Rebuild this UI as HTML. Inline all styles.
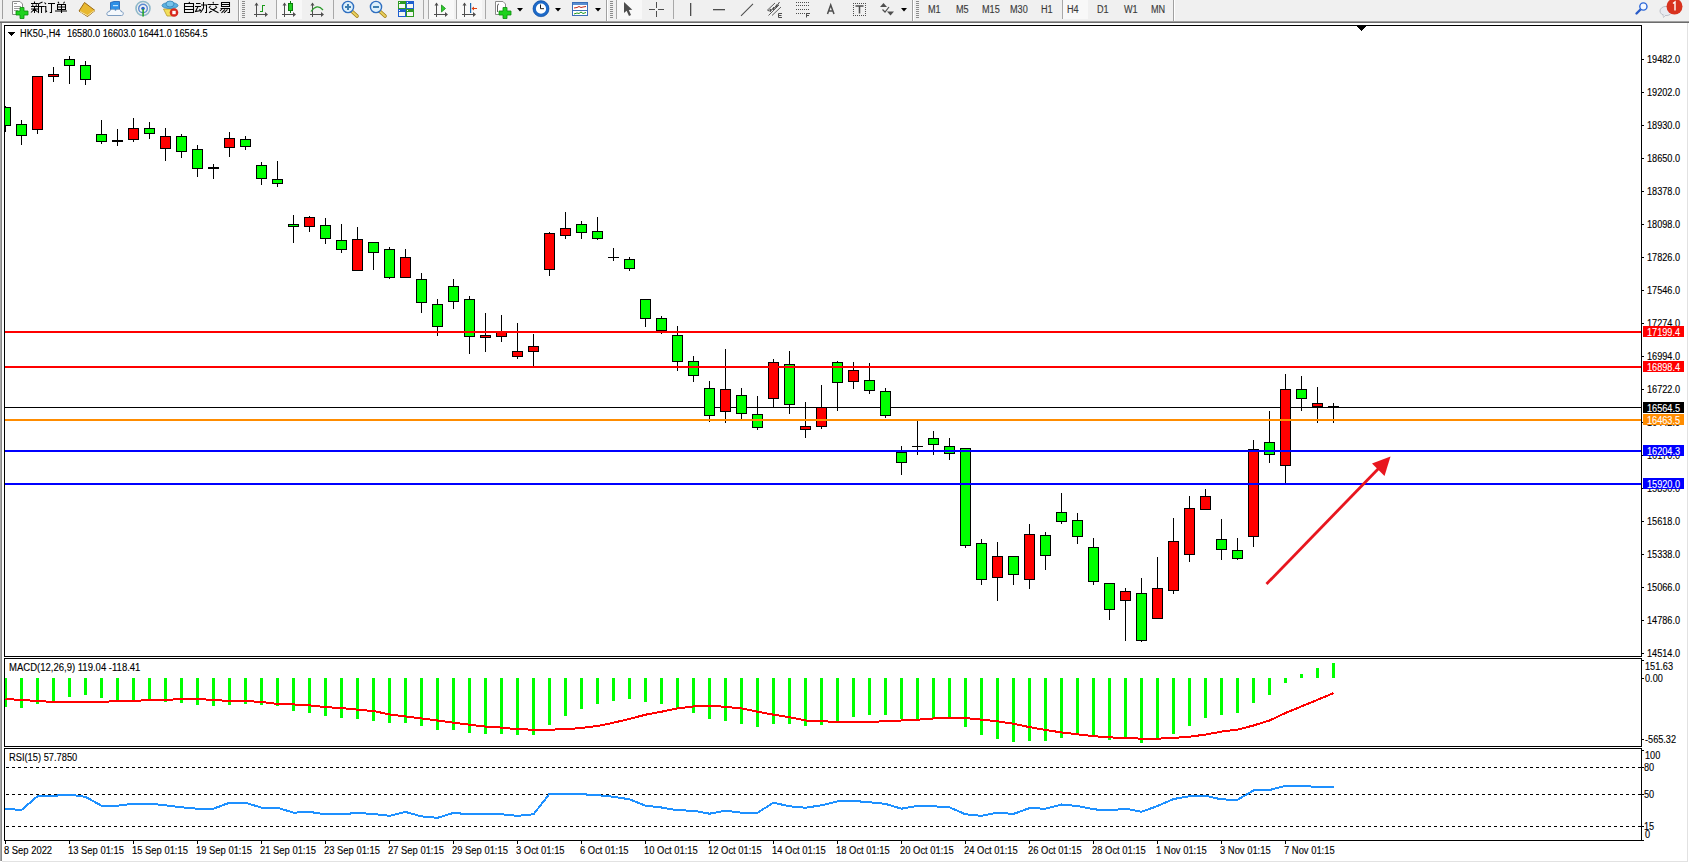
<!DOCTYPE html><html><head><meta charset="utf-8"><style>
html,body{margin:0;padding:0;}
body{width:1689px;height:863px;position:relative;overflow:hidden;background:#fff;font-family:"Liberation Sans",sans-serif;}
.t{position:absolute;font-size:10px;line-height:10px;color:#000;white-space:nowrap;transform-origin:0 0;-webkit-text-stroke:0.12px currentColor;}
.p{transform:scaleX(0.915);}
.d{transform:scaleX(0.94);}
.h{transform:scaleX(0.93);}
.tf{transform:scaleX(0.91);color:#3A3A3A;}
.tag{position:absolute;left:1643px;width:41px;height:11px;color:#fff;font-size:10px;line-height:10px;-webkit-text-stroke:0.1px #fff;}
.tag span{position:absolute;left:4px;top:2px;transform-origin:0 0;transform:scaleX(0.915);white-space:nowrap;}
#tb{position:absolute;left:0;top:0;width:1689px;height:21px;background:#F0F0F0;}

</style></head><body>
<div id="tb"></div>
<div style="position:absolute;left:0;top:22px;width:1px;height:839px;background:#A8A8A8"></div>
<div style="position:absolute;left:1px;top:22px;width:1px;height:839px;background:#888888"></div>
<div style="position:absolute;left:1687px;top:22px;width:1px;height:840px;background:#E2E2E2"></div>
<div style="position:absolute;left:2px;top:861px;width:1686px;height:1px;background:#E2E2E2"></div>
<svg width="1689" height="863" style="position:absolute;left:0;top:0" shape-rendering="crispEdges">
<clipPath id="cm"><rect x="5" y="26" width="1636" height="630"/></clipPath>
<clipPath id="cmacd"><rect x="5" y="659" width="1636" height="87"/></clipPath>
<clipPath id="crsi"><rect x="5" y="749" width="1636" height="91"/></clipPath>
<g clip-path="url(#cm)">
<rect x="5" y="407" width="1636" height="1" fill="#000"/>
<rect x="5" y="106" width="1" height="26" fill="#000"/>
<rect x="0" y="107" width="11" height="19" fill="#000"/>
<rect x="1" y="108" width="9" height="17" fill="#00FF00"/>
<rect x="21" y="120" width="1" height="25" fill="#000"/>
<rect x="16" y="124" width="11" height="12" fill="#000"/>
<rect x="17" y="125" width="9" height="10" fill="#00FF00"/>
<rect x="37" y="76" width="1" height="58" fill="#000"/>
<rect x="32" y="76" width="11" height="54" fill="#000"/>
<rect x="33" y="77" width="9" height="52" fill="#FF0000"/>
<rect x="53" y="67" width="1" height="15" fill="#000"/>
<rect x="48" y="74" width="11" height="3" fill="#000"/>
<rect x="49" y="75" width="9" height="1" fill="#FF0000"/>
<rect x="69" y="56" width="1" height="28" fill="#000"/>
<rect x="64" y="59" width="11" height="7" fill="#000"/>
<rect x="65" y="60" width="9" height="5" fill="#00FF00"/>
<rect x="85" y="61" width="1" height="24" fill="#000"/>
<rect x="80" y="65" width="11" height="15" fill="#000"/>
<rect x="81" y="66" width="9" height="13" fill="#00FF00"/>
<rect x="101" y="120" width="1" height="24" fill="#000"/>
<rect x="96" y="134" width="11" height="8" fill="#000"/>
<rect x="97" y="135" width="9" height="6" fill="#00FF00"/>
<rect x="117" y="129" width="1" height="17" fill="#000"/>
<rect x="112" y="140" width="11" height="2" fill="#000"/>
<rect x="133" y="118" width="1" height="24" fill="#000"/>
<rect x="128" y="128" width="11" height="12" fill="#000"/>
<rect x="129" y="129" width="9" height="10" fill="#FF0000"/>
<rect x="149" y="122" width="1" height="17" fill="#000"/>
<rect x="144" y="128" width="11" height="6" fill="#000"/>
<rect x="145" y="129" width="9" height="4" fill="#00FF00"/>
<rect x="165" y="128" width="1" height="33" fill="#000"/>
<rect x="160" y="136" width="11" height="13" fill="#000"/>
<rect x="161" y="137" width="9" height="11" fill="#FF0000"/>
<rect x="181" y="134" width="1" height="24" fill="#000"/>
<rect x="176" y="136" width="11" height="16" fill="#000"/>
<rect x="177" y="137" width="9" height="14" fill="#00FF00"/>
<rect x="197" y="145" width="1" height="32" fill="#000"/>
<rect x="192" y="149" width="11" height="20" fill="#000"/>
<rect x="193" y="150" width="9" height="18" fill="#00FF00"/>
<rect x="213" y="164" width="1" height="15" fill="#000"/>
<rect x="208" y="167" width="11" height="2" fill="#000"/>
<rect x="229" y="132" width="1" height="25" fill="#000"/>
<rect x="224" y="138" width="11" height="10" fill="#000"/>
<rect x="225" y="139" width="9" height="8" fill="#FF0000"/>
<rect x="245" y="136" width="1" height="14" fill="#000"/>
<rect x="240" y="139" width="11" height="8" fill="#000"/>
<rect x="241" y="140" width="9" height="6" fill="#00FF00"/>
<rect x="261" y="162" width="1" height="23" fill="#000"/>
<rect x="256" y="165" width="11" height="14" fill="#000"/>
<rect x="257" y="166" width="9" height="12" fill="#00FF00"/>
<rect x="277" y="161" width="1" height="26" fill="#000"/>
<rect x="272" y="179" width="11" height="5" fill="#000"/>
<rect x="273" y="180" width="9" height="3" fill="#00FF00"/>
<rect x="293" y="215" width="1" height="28" fill="#000"/>
<rect x="288" y="224" width="11" height="3" fill="#000"/>
<rect x="289" y="225" width="9" height="1" fill="#00FF00"/>
<rect x="309" y="216" width="1" height="16" fill="#000"/>
<rect x="304" y="217" width="11" height="10" fill="#000"/>
<rect x="305" y="218" width="9" height="8" fill="#FF0000"/>
<rect x="325" y="218" width="1" height="26" fill="#000"/>
<rect x="320" y="225" width="11" height="14" fill="#000"/>
<rect x="321" y="226" width="9" height="12" fill="#00FF00"/>
<rect x="341" y="224" width="1" height="29" fill="#000"/>
<rect x="336" y="240" width="11" height="10" fill="#000"/>
<rect x="337" y="241" width="9" height="8" fill="#00FF00"/>
<rect x="357" y="227" width="1" height="44" fill="#000"/>
<rect x="352" y="239" width="11" height="32" fill="#000"/>
<rect x="353" y="240" width="9" height="30" fill="#FF0000"/>
<rect x="373" y="242" width="1" height="28" fill="#000"/>
<rect x="368" y="242" width="11" height="11" fill="#000"/>
<rect x="369" y="243" width="9" height="9" fill="#00FF00"/>
<rect x="389" y="247" width="1" height="32" fill="#000"/>
<rect x="384" y="249" width="11" height="29" fill="#000"/>
<rect x="385" y="250" width="9" height="27" fill="#00FF00"/>
<rect x="405" y="249" width="1" height="29" fill="#000"/>
<rect x="400" y="257" width="11" height="21" fill="#000"/>
<rect x="401" y="258" width="9" height="19" fill="#FF0000"/>
<rect x="421" y="273" width="1" height="40" fill="#000"/>
<rect x="416" y="279" width="11" height="24" fill="#000"/>
<rect x="417" y="280" width="9" height="22" fill="#00FF00"/>
<rect x="437" y="299" width="1" height="37" fill="#000"/>
<rect x="432" y="304" width="11" height="23" fill="#000"/>
<rect x="433" y="305" width="9" height="21" fill="#00FF00"/>
<rect x="453" y="279" width="1" height="30" fill="#000"/>
<rect x="448" y="286" width="11" height="16" fill="#000"/>
<rect x="449" y="287" width="9" height="14" fill="#00FF00"/>
<rect x="469" y="296" width="1" height="58" fill="#000"/>
<rect x="464" y="299" width="11" height="38" fill="#000"/>
<rect x="465" y="300" width="9" height="36" fill="#00FF00"/>
<rect x="485" y="313" width="1" height="39" fill="#000"/>
<rect x="480" y="335" width="11" height="3" fill="#000"/>
<rect x="481" y="336" width="9" height="1" fill="#FF0000"/>
<rect x="501" y="315" width="1" height="27" fill="#000"/>
<rect x="496" y="331" width="11" height="6" fill="#000"/>
<rect x="497" y="332" width="9" height="4" fill="#FF0000"/>
<rect x="517" y="323" width="1" height="36" fill="#000"/>
<rect x="512" y="351" width="11" height="6" fill="#000"/>
<rect x="513" y="352" width="9" height="4" fill="#FF0000"/>
<rect x="533" y="334" width="1" height="33" fill="#000"/>
<rect x="528" y="346" width="11" height="6" fill="#000"/>
<rect x="529" y="347" width="9" height="4" fill="#FF0000"/>
<rect x="549" y="232" width="1" height="44" fill="#000"/>
<rect x="544" y="233" width="11" height="37" fill="#000"/>
<rect x="545" y="234" width="9" height="35" fill="#FF0000"/>
<rect x="565" y="212" width="1" height="27" fill="#000"/>
<rect x="560" y="228" width="11" height="8" fill="#000"/>
<rect x="561" y="229" width="9" height="6" fill="#FF0000"/>
<rect x="581" y="221" width="1" height="18" fill="#000"/>
<rect x="576" y="224" width="11" height="9" fill="#000"/>
<rect x="577" y="225" width="9" height="7" fill="#00FF00"/>
<rect x="597" y="217" width="1" height="23" fill="#000"/>
<rect x="592" y="231" width="11" height="8" fill="#000"/>
<rect x="593" y="232" width="9" height="6" fill="#00FF00"/>
<rect x="613" y="248" width="1" height="13" fill="#000"/>
<rect x="608" y="257" width="11" height="1" fill="#000"/>
<rect x="629" y="257" width="1" height="14" fill="#000"/>
<rect x="624" y="259" width="11" height="10" fill="#000"/>
<rect x="625" y="260" width="9" height="8" fill="#00FF00"/>
<rect x="645" y="299" width="1" height="28" fill="#000"/>
<rect x="640" y="299" width="11" height="20" fill="#000"/>
<rect x="641" y="300" width="9" height="18" fill="#00FF00"/>
<rect x="661" y="316" width="1" height="18" fill="#000"/>
<rect x="656" y="318" width="11" height="13" fill="#000"/>
<rect x="657" y="319" width="9" height="11" fill="#00FF00"/>
<rect x="677" y="326" width="1" height="45" fill="#000"/>
<rect x="672" y="335" width="11" height="27" fill="#000"/>
<rect x="673" y="336" width="9" height="25" fill="#00FF00"/>
<rect x="693" y="356" width="1" height="26" fill="#000"/>
<rect x="688" y="361" width="11" height="15" fill="#000"/>
<rect x="689" y="362" width="9" height="13" fill="#00FF00"/>
<rect x="709" y="381" width="1" height="41" fill="#000"/>
<rect x="704" y="388" width="11" height="28" fill="#000"/>
<rect x="705" y="389" width="9" height="26" fill="#00FF00"/>
<rect x="725" y="349" width="1" height="74" fill="#000"/>
<rect x="720" y="389" width="11" height="23" fill="#000"/>
<rect x="721" y="390" width="9" height="21" fill="#FF0000"/>
<rect x="741" y="388" width="1" height="32" fill="#000"/>
<rect x="736" y="395" width="11" height="19" fill="#000"/>
<rect x="737" y="396" width="9" height="17" fill="#00FF00"/>
<rect x="757" y="396" width="1" height="34" fill="#000"/>
<rect x="752" y="414" width="11" height="14" fill="#000"/>
<rect x="753" y="415" width="9" height="12" fill="#00FF00"/>
<rect x="773" y="359" width="1" height="49" fill="#000"/>
<rect x="768" y="362" width="11" height="37" fill="#000"/>
<rect x="769" y="363" width="9" height="35" fill="#FF0000"/>
<rect x="789" y="351" width="1" height="63" fill="#000"/>
<rect x="784" y="364" width="11" height="41" fill="#000"/>
<rect x="785" y="365" width="9" height="39" fill="#00FF00"/>
<rect x="805" y="402" width="1" height="36" fill="#000"/>
<rect x="800" y="426" width="11" height="4" fill="#000"/>
<rect x="801" y="427" width="9" height="2" fill="#FF0000"/>
<rect x="821" y="385" width="1" height="44" fill="#000"/>
<rect x="816" y="407" width="11" height="20" fill="#000"/>
<rect x="817" y="408" width="9" height="18" fill="#FF0000"/>
<rect x="837" y="361" width="1" height="50" fill="#000"/>
<rect x="832" y="362" width="11" height="21" fill="#000"/>
<rect x="833" y="363" width="9" height="19" fill="#00FF00"/>
<rect x="853" y="362" width="1" height="27" fill="#000"/>
<rect x="848" y="370" width="11" height="12" fill="#000"/>
<rect x="849" y="371" width="9" height="10" fill="#FF0000"/>
<rect x="869" y="363" width="1" height="31" fill="#000"/>
<rect x="864" y="380" width="11" height="11" fill="#000"/>
<rect x="865" y="381" width="9" height="9" fill="#00FF00"/>
<rect x="885" y="388" width="1" height="30" fill="#000"/>
<rect x="880" y="391" width="11" height="25" fill="#000"/>
<rect x="881" y="392" width="9" height="23" fill="#00FF00"/>
<rect x="901" y="446" width="1" height="29" fill="#000"/>
<rect x="896" y="452" width="11" height="11" fill="#000"/>
<rect x="897" y="453" width="9" height="9" fill="#00FF00"/>
<rect x="917" y="421" width="1" height="34" fill="#000"/>
<rect x="912" y="446" width="11" height="1" fill="#000"/>
<rect x="933" y="431" width="1" height="24" fill="#000"/>
<rect x="928" y="438" width="11" height="7" fill="#000"/>
<rect x="929" y="439" width="9" height="5" fill="#00FF00"/>
<rect x="949" y="438" width="1" height="22" fill="#000"/>
<rect x="944" y="446" width="11" height="8" fill="#000"/>
<rect x="945" y="447" width="9" height="6" fill="#00FF00"/>
<rect x="965" y="448" width="1" height="100" fill="#000"/>
<rect x="960" y="448" width="11" height="98" fill="#000"/>
<rect x="961" y="449" width="9" height="96" fill="#00FF00"/>
<rect x="981" y="539" width="1" height="46" fill="#000"/>
<rect x="976" y="543" width="11" height="37" fill="#000"/>
<rect x="977" y="544" width="9" height="35" fill="#00FF00"/>
<rect x="997" y="542" width="1" height="59" fill="#000"/>
<rect x="992" y="556" width="11" height="22" fill="#000"/>
<rect x="993" y="557" width="9" height="20" fill="#FF0000"/>
<rect x="1013" y="556" width="1" height="29" fill="#000"/>
<rect x="1008" y="556" width="11" height="19" fill="#000"/>
<rect x="1009" y="557" width="9" height="17" fill="#00FF00"/>
<rect x="1029" y="524" width="1" height="65" fill="#000"/>
<rect x="1024" y="534" width="11" height="46" fill="#000"/>
<rect x="1025" y="535" width="9" height="44" fill="#FF0000"/>
<rect x="1045" y="532" width="1" height="38" fill="#000"/>
<rect x="1040" y="535" width="11" height="21" fill="#000"/>
<rect x="1041" y="536" width="9" height="19" fill="#00FF00"/>
<rect x="1061" y="493" width="1" height="31" fill="#000"/>
<rect x="1056" y="512" width="11" height="10" fill="#000"/>
<rect x="1057" y="513" width="9" height="8" fill="#00FF00"/>
<rect x="1077" y="513" width="1" height="31" fill="#000"/>
<rect x="1072" y="520" width="11" height="17" fill="#000"/>
<rect x="1073" y="521" width="9" height="15" fill="#00FF00"/>
<rect x="1093" y="538" width="1" height="47" fill="#000"/>
<rect x="1088" y="547" width="11" height="35" fill="#000"/>
<rect x="1089" y="548" width="9" height="33" fill="#00FF00"/>
<rect x="1109" y="583" width="1" height="37" fill="#000"/>
<rect x="1104" y="583" width="11" height="27" fill="#000"/>
<rect x="1105" y="584" width="9" height="25" fill="#00FF00"/>
<rect x="1125" y="588" width="1" height="53" fill="#000"/>
<rect x="1120" y="591" width="11" height="10" fill="#000"/>
<rect x="1121" y="592" width="9" height="8" fill="#FF0000"/>
<rect x="1141" y="578" width="1" height="64" fill="#000"/>
<rect x="1136" y="593" width="11" height="48" fill="#000"/>
<rect x="1137" y="594" width="9" height="46" fill="#00FF00"/>
<rect x="1157" y="557" width="1" height="62" fill="#000"/>
<rect x="1152" y="588" width="11" height="31" fill="#000"/>
<rect x="1153" y="589" width="9" height="29" fill="#FF0000"/>
<rect x="1173" y="518" width="1" height="76" fill="#000"/>
<rect x="1168" y="541" width="11" height="50" fill="#000"/>
<rect x="1169" y="542" width="9" height="48" fill="#FF0000"/>
<rect x="1189" y="496" width="1" height="66" fill="#000"/>
<rect x="1184" y="508" width="11" height="47" fill="#000"/>
<rect x="1185" y="509" width="9" height="45" fill="#FF0000"/>
<rect x="1205" y="489" width="1" height="21" fill="#000"/>
<rect x="1200" y="496" width="11" height="14" fill="#000"/>
<rect x="1201" y="497" width="9" height="12" fill="#FF0000"/>
<rect x="1221" y="519" width="1" height="41" fill="#000"/>
<rect x="1216" y="539" width="11" height="11" fill="#000"/>
<rect x="1217" y="540" width="9" height="9" fill="#00FF00"/>
<rect x="1237" y="538" width="1" height="22" fill="#000"/>
<rect x="1232" y="550" width="11" height="9" fill="#000"/>
<rect x="1233" y="551" width="9" height="7" fill="#00FF00"/>
<rect x="1253" y="440" width="1" height="107" fill="#000"/>
<rect x="1248" y="449" width="11" height="88" fill="#000"/>
<rect x="1249" y="450" width="9" height="86" fill="#FF0000"/>
<rect x="1269" y="411" width="1" height="52" fill="#000"/>
<rect x="1264" y="442" width="11" height="13" fill="#000"/>
<rect x="1265" y="443" width="9" height="11" fill="#00FF00"/>
<rect x="1285" y="374" width="1" height="110" fill="#000"/>
<rect x="1280" y="389" width="11" height="77" fill="#000"/>
<rect x="1281" y="390" width="9" height="75" fill="#FF0000"/>
<rect x="1301" y="376" width="1" height="35" fill="#000"/>
<rect x="1296" y="389" width="11" height="10" fill="#000"/>
<rect x="1297" y="390" width="9" height="8" fill="#00FF00"/>
<rect x="1317" y="387" width="1" height="36" fill="#000"/>
<rect x="1312" y="403" width="11" height="4" fill="#000"/>
<rect x="1313" y="404" width="9" height="2" fill="#FF0000"/>
<rect x="1333" y="403" width="1" height="20" fill="#000"/>
<rect x="1328" y="406" width="11" height="1" fill="#000"/>
<rect x="5" y="331" width="1636" height="2" fill="#FF0000"/>
<rect x="5" y="366" width="1636" height="2" fill="#FF0000"/>
<rect x="5" y="419" width="1636" height="2" fill="#FF8C00"/>
<rect x="5" y="450" width="1636" height="2" fill="#0000FF"/>
<rect x="5" y="483" width="1636" height="2" fill="#0000FF"/>
<line x1="1266.5" y1="584" x2="1380" y2="467" stroke="#E8161E" stroke-width="2.8" shape-rendering="geometricPrecision"/>
<polygon points="1390.5,456.5 1372,463.5 1384.5,476" fill="#E8161E" shape-rendering="geometricPrecision"/>
</g>
<g clip-path="url(#cmacd)">
<rect x="4" y="678" width="3" height="29" fill="#00FF00"/>
<rect x="20" y="678" width="3" height="30" fill="#00FF00"/>
<rect x="36" y="678" width="3" height="26" fill="#00FF00"/>
<rect x="52" y="678" width="3" height="23" fill="#00FF00"/>
<rect x="68" y="678" width="3" height="19" fill="#00FF00"/>
<rect x="84" y="678" width="3" height="17" fill="#00FF00"/>
<rect x="100" y="678" width="3" height="20" fill="#00FF00"/>
<rect x="116" y="678" width="3" height="22" fill="#00FF00"/>
<rect x="132" y="678" width="3" height="22" fill="#00FF00"/>
<rect x="148" y="678" width="3" height="22" fill="#00FF00"/>
<rect x="164" y="678" width="3" height="24" fill="#00FF00"/>
<rect x="180" y="678" width="3" height="25" fill="#00FF00"/>
<rect x="196" y="678" width="3" height="27" fill="#00FF00"/>
<rect x="212" y="678" width="3" height="28" fill="#00FF00"/>
<rect x="228" y="678" width="3" height="27" fill="#00FF00"/>
<rect x="244" y="678" width="3" height="26" fill="#00FF00"/>
<rect x="260" y="678" width="3" height="27" fill="#00FF00"/>
<rect x="276" y="678" width="3" height="28" fill="#00FF00"/>
<rect x="292" y="678" width="3" height="33" fill="#00FF00"/>
<rect x="308" y="678" width="3" height="35" fill="#00FF00"/>
<rect x="324" y="678" width="3" height="38" fill="#00FF00"/>
<rect x="340" y="678" width="3" height="40" fill="#00FF00"/>
<rect x="356" y="678" width="3" height="41" fill="#00FF00"/>
<rect x="372" y="678" width="3" height="43" fill="#00FF00"/>
<rect x="388" y="678" width="3" height="45" fill="#00FF00"/>
<rect x="404" y="678" width="3" height="45" fill="#00FF00"/>
<rect x="420" y="678" width="3" height="48" fill="#00FF00"/>
<rect x="436" y="678" width="3" height="52" fill="#00FF00"/>
<rect x="452" y="678" width="3" height="52" fill="#00FF00"/>
<rect x="468" y="678" width="3" height="55" fill="#00FF00"/>
<rect x="484" y="678" width="3" height="56" fill="#00FF00"/>
<rect x="500" y="678" width="3" height="56" fill="#00FF00"/>
<rect x="516" y="678" width="3" height="57" fill="#00FF00"/>
<rect x="532" y="678" width="3" height="57" fill="#00FF00"/>
<rect x="548" y="678" width="3" height="47" fill="#00FF00"/>
<rect x="564" y="678" width="3" height="38" fill="#00FF00"/>
<rect x="580" y="678" width="3" height="31" fill="#00FF00"/>
<rect x="596" y="678" width="3" height="26" fill="#00FF00"/>
<rect x="612" y="678" width="3" height="23" fill="#00FF00"/>
<rect x="628" y="678" width="3" height="21" fill="#00FF00"/>
<rect x="644" y="678" width="3" height="24" fill="#00FF00"/>
<rect x="660" y="678" width="3" height="26" fill="#00FF00"/>
<rect x="676" y="678" width="3" height="31" fill="#00FF00"/>
<rect x="692" y="678" width="3" height="35" fill="#00FF00"/>
<rect x="708" y="678" width="3" height="41" fill="#00FF00"/>
<rect x="724" y="678" width="3" height="43" fill="#00FF00"/>
<rect x="740" y="678" width="3" height="46" fill="#00FF00"/>
<rect x="756" y="678" width="3" height="49" fill="#00FF00"/>
<rect x="772" y="678" width="3" height="46" fill="#00FF00"/>
<rect x="788" y="678" width="3" height="46" fill="#00FF00"/>
<rect x="804" y="678" width="3" height="48" fill="#00FF00"/>
<rect x="820" y="678" width="3" height="47" fill="#00FF00"/>
<rect x="836" y="678" width="3" height="43" fill="#00FF00"/>
<rect x="852" y="678" width="3" height="39" fill="#00FF00"/>
<rect x="868" y="678" width="3" height="37" fill="#00FF00"/>
<rect x="884" y="678" width="3" height="37" fill="#00FF00"/>
<rect x="900" y="678" width="3" height="41" fill="#00FF00"/>
<rect x="916" y="678" width="3" height="41" fill="#00FF00"/>
<rect x="932" y="678" width="3" height="40" fill="#00FF00"/>
<rect x="948" y="678" width="3" height="41" fill="#00FF00"/>
<rect x="964" y="678" width="3" height="49" fill="#00FF00"/>
<rect x="980" y="678" width="3" height="57" fill="#00FF00"/>
<rect x="996" y="678" width="3" height="61" fill="#00FF00"/>
<rect x="1012" y="678" width="3" height="64" fill="#00FF00"/>
<rect x="1028" y="678" width="3" height="63" fill="#00FF00"/>
<rect x="1044" y="678" width="3" height="63" fill="#00FF00"/>
<rect x="1060" y="678" width="3" height="60" fill="#00FF00"/>
<rect x="1076" y="678" width="3" height="57" fill="#00FF00"/>
<rect x="1092" y="678" width="3" height="58" fill="#00FF00"/>
<rect x="1108" y="678" width="3" height="62" fill="#00FF00"/>
<rect x="1124" y="678" width="3" height="60" fill="#00FF00"/>
<rect x="1140" y="678" width="3" height="65" fill="#00FF00"/>
<rect x="1156" y="678" width="3" height="61" fill="#00FF00"/>
<rect x="1172" y="678" width="3" height="56" fill="#00FF00"/>
<rect x="1188" y="678" width="3" height="48" fill="#00FF00"/>
<rect x="1204" y="678" width="3" height="40" fill="#00FF00"/>
<rect x="1220" y="678" width="3" height="37" fill="#00FF00"/>
<rect x="1236" y="678" width="3" height="35" fill="#00FF00"/>
<rect x="1252" y="678" width="3" height="25" fill="#00FF00"/>
<rect x="1268" y="678" width="3" height="17" fill="#00FF00"/>
<rect x="1284" y="678" width="3" height="5" fill="#00FF00"/>
<rect x="1300" y="674" width="3" height="4" fill="#00FF00"/>
<rect x="1316" y="668" width="3" height="10" fill="#00FF00"/>
<rect x="1332" y="663" width="3" height="15" fill="#00FF00"/>
<polyline points="5.5,699 21.5,700 37.5,701 53.5,702 69.5,702 85.5,702 101.5,702 117.5,701 133.5,701 149.5,700 165.5,700 181.5,699 197.5,699 213.5,700 229.5,701 245.5,701 261.5,702 277.5,703.9 293.5,704.4 309.5,705.3 325.5,707.2 341.5,708 357.5,709.7 373.5,711 389.5,714.4 405.5,716.4 421.5,718.4 437.5,720.5 453.5,722.7 469.5,724.7 485.5,726.6 501.5,727.6 517.5,729.3 533.5,729.6 549.5,729.6 565.5,729.3 581.5,728 597.5,726 613.5,722.7 629.5,718.9 645.5,714.7 661.5,711.7 677.5,708.4 693.5,706.4 709.5,705.6 725.5,706.9 741.5,708.4 757.5,711.7 773.5,714.7 789.5,717.2 805.5,720.5 821.5,721.3 837.5,721.8 853.5,721.8 869.5,721.8 885.5,721.3 901.5,720.5 917.5,719.7 933.5,718.5 949.5,718.4 965.5,718 981.5,719.7 997.5,721.3 1013.5,723.8 1029.5,727.1 1045.5,730 1061.5,732.4 1077.5,734.3 1093.5,736.2 1109.5,737.4 1125.5,737.9 1141.5,738.7 1157.5,738.7 1173.5,737.9 1189.5,736.7 1205.5,734.6 1221.5,731.6 1237.5,729.6 1253.5,725.5 1269.5,720.5 1285.5,713 1301.5,706.4 1317.5,699.8 1333.5,693.1" fill="none" stroke="#FF0000" stroke-width="2" stroke-linejoin="round"/>
</g>
<g clip-path="url(#crsi)">
<line x1="6" y1="767.5" x2="1641" y2="767.5" stroke="#000" stroke-width="1" stroke-dasharray="3 3"/>
<line x1="6" y1="794.5" x2="1641" y2="794.5" stroke="#000" stroke-width="1" stroke-dasharray="3 3"/>
<line x1="6" y1="826.5" x2="1641" y2="826.5" stroke="#000" stroke-width="1" stroke-dasharray="3 3"/>
<polyline points="4,808.7 5.5,808.7 21.5,810 37.5,796.2 53.5,795.8 69.5,794.6 85.5,796.8 101.5,805.7 117.5,805.7 133.5,803.7 149.5,803.7 165.5,805.3 181.5,807.3 197.5,808.7 213.5,808.7 229.5,802.7 245.5,802.7 261.5,807.7 277.5,807.7 293.5,812.7 309.5,811.9 325.5,814.3 341.5,814.3 357.5,812.9 373.5,814 389.5,815.8 405.5,811.9 421.5,816.4 437.5,817.8 453.5,812.9 469.5,814.3 485.5,814.3 501.5,814.3 517.5,815.8 533.5,814.3 549.5,793.8 565.5,793.8 581.5,794.2 597.5,795.2 613.5,796.8 629.5,799.3 645.5,805.7 661.5,807.5 677.5,810.3 693.5,810.7 709.5,813.7 725.5,810.7 741.5,812.7 757.5,812.7 773.5,802.7 789.5,806.3 805.5,807.7 821.5,805.3 837.5,801.3 853.5,800.9 869.5,802.3 885.5,803.9 901.5,808.7 917.5,805.9 933.5,806.3 949.5,807.3 965.5,814.3 981.5,815.8 997.5,812.7 1013.5,813.9 1029.5,808.1 1045.5,808.7 1061.5,804.5 1077.5,806 1093.5,809.3 1109.5,810.4 1125.5,808.7 1141.5,811.8 1157.5,806 1173.5,799 1189.5,796.3 1205.5,795.8 1221.5,799.4 1237.5,799.8 1253.5,790.5 1269.5,790 1285.5,785.9 1301.5,785.9 1317.5,786.9 1333.5,786.9" fill="none" stroke="#1E90FF" stroke-width="2" stroke-linejoin="round"/>
</g>
<rect x="4.5" y="25.5" width="1637" height="631" fill="none" stroke="#000" stroke-width="1"/>
<rect x="4.5" y="658.5" width="1637" height="88" fill="none" stroke="#000" stroke-width="1"/>
<rect x="4.5" y="748.5" width="1637" height="92" fill="none" stroke="#000" stroke-width="1"/>
<rect x="8" y="32" width="7" height="1" fill="#000"/>
<rect x="9" y="33" width="5" height="1" fill="#000"/>
<rect x="10" y="34" width="3" height="1" fill="#000"/>
<rect x="11" y="35" width="1" height="1" fill="#000"/>
<rect x="1357" y="26" width="9" height="1" fill="#000"/>
<rect x="1358" y="27" width="7" height="1" fill="#000"/>
<rect x="1359" y="28" width="5" height="1" fill="#000"/>
<rect x="1360" y="29" width="3" height="1" fill="#000"/>
<rect x="1361" y="30" width="1" height="1" fill="#000"/>
<rect x="1642" y="59" width="2" height="1" fill="#000"/>
<rect x="1642" y="92" width="2" height="1" fill="#000"/>
<rect x="1642" y="125" width="2" height="1" fill="#000"/>
<rect x="1642" y="158" width="2" height="1" fill="#000"/>
<rect x="1642" y="191" width="2" height="1" fill="#000"/>
<rect x="1642" y="224" width="2" height="1" fill="#000"/>
<rect x="1642" y="257" width="2" height="1" fill="#000"/>
<rect x="1642" y="290" width="2" height="1" fill="#000"/>
<rect x="1642" y="323" width="2" height="1" fill="#000"/>
<rect x="1642" y="356" width="2" height="1" fill="#000"/>
<rect x="1642" y="389" width="2" height="1" fill="#000"/>
<rect x="1642" y="422" width="2" height="1" fill="#000"/>
<rect x="1642" y="455" width="2" height="1" fill="#000"/>
<rect x="1642" y="488" width="2" height="1" fill="#000"/>
<rect x="1642" y="521" width="2" height="1" fill="#000"/>
<rect x="1642" y="554" width="2" height="1" fill="#000"/>
<rect x="1642" y="587" width="2" height="1" fill="#000"/>
<rect x="1642" y="620" width="2" height="1" fill="#000"/>
<rect x="1642" y="653" width="2" height="1" fill="#000"/>
<rect x="1642" y="660" width="2" height="1" fill="#000"/>
<rect x="1642" y="678" width="2" height="1" fill="#000"/>
<rect x="1642" y="739" width="2" height="1" fill="#000"/>
<rect x="1642" y="750" width="2" height="1" fill="#000"/>
<rect x="1642" y="767" width="2" height="1" fill="#000"/>
<rect x="1642" y="794" width="2" height="1" fill="#000"/>
<rect x="1642" y="826" width="2" height="1" fill="#000"/>
<rect x="1642" y="840" width="2" height="1" fill="#000"/>
<rect x="5" y="841" width="1" height="3" fill="#000"/>
<rect x="69" y="841" width="1" height="3" fill="#000"/>
<rect x="133" y="841" width="1" height="3" fill="#000"/>
<rect x="197" y="841" width="1" height="3" fill="#000"/>
<rect x="261" y="841" width="1" height="3" fill="#000"/>
<rect x="325" y="841" width="1" height="3" fill="#000"/>
<rect x="389" y="841" width="1" height="3" fill="#000"/>
<rect x="453" y="841" width="1" height="3" fill="#000"/>
<rect x="517" y="841" width="1" height="3" fill="#000"/>
<rect x="581" y="841" width="1" height="3" fill="#000"/>
<rect x="645" y="841" width="1" height="3" fill="#000"/>
<rect x="709" y="841" width="1" height="3" fill="#000"/>
<rect x="773" y="841" width="1" height="3" fill="#000"/>
<rect x="837" y="841" width="1" height="3" fill="#000"/>
<rect x="901" y="841" width="1" height="3" fill="#000"/>
<rect x="965" y="841" width="1" height="3" fill="#000"/>
<rect x="1029" y="841" width="1" height="3" fill="#000"/>
<rect x="1093" y="841" width="1" height="3" fill="#000"/>
<rect x="1157" y="841" width="1" height="3" fill="#000"/>
<rect x="1221" y="841" width="1" height="3" fill="#000"/>
<rect x="1285" y="841" width="1" height="3" fill="#000"/>
</svg>
<div class="t p" style="left:1647px;top:55px">19482.0</div>
<div class="t p" style="left:1647px;top:88px">19202.0</div>
<div class="t p" style="left:1647px;top:121px">18930.0</div>
<div class="t p" style="left:1647px;top:154px">18650.0</div>
<div class="t p" style="left:1647px;top:187px">18378.0</div>
<div class="t p" style="left:1647px;top:220px">18098.0</div>
<div class="t p" style="left:1647px;top:253px">17826.0</div>
<div class="t p" style="left:1647px;top:286px">17546.0</div>
<div class="t p" style="left:1647px;top:319px">17274.0</div>
<div class="t p" style="left:1647px;top:352px">16994.0</div>
<div class="t p" style="left:1647px;top:385px">16722.0</div>
<div class="t p" style="left:1647px;top:418px">16442.0</div>
<div class="t p" style="left:1647px;top:451px">16170.0</div>
<div class="t p" style="left:1647px;top:484px">15890.0</div>
<div class="t p" style="left:1647px;top:517px">15618.0</div>
<div class="t p" style="left:1647px;top:550px">15338.0</div>
<div class="t p" style="left:1647px;top:583px">15066.0</div>
<div class="t p" style="left:1647px;top:616px">14786.0</div>
<div class="t p" style="left:1647px;top:649px">14514.0</div>
<div class="t p" style="left:1645px;top:662px">151.63</div>
<div class="t p" style="left:1645px;top:674px">0.00</div>
<div class="t p" style="left:1645px;top:735px">-565.32</div>
<div class="t p" style="left:1645px;top:751px">100</div>
<div class="t p" style="left:1644px;top:763px">80</div>
<div class="t p" style="left:1644px;top:790px">50</div>
<div class="t p" style="left:1644px;top:822px">15</div>
<div class="t p" style="left:1645px;top:830px">0</div>
<div class="tag" style="top:326px;background:#FF0000"><span>17199.4</span></div>
<div class="tag" style="top:361px;background:#FF0000"><span>16898.4</span></div>
<div class="tag" style="top:402px;background:#000000"><span>16564.5</span></div>
<div class="tag" style="top:414px;background:#FF8C00"><span>16463.5</span></div>
<div class="tag" style="top:445px;background:#0000FF"><span>16204.3</span></div>
<div class="tag" style="top:478px;background:#0000FF"><span>15920.0</span></div>
<div class="t d" style="left:4px;top:846px">8 Sep 2022</div>
<div class="t d" style="left:68px;top:846px">13 Sep 01:15</div>
<div class="t d" style="left:132px;top:846px">15 Sep 01:15</div>
<div class="t d" style="left:196px;top:846px">19 Sep 01:15</div>
<div class="t d" style="left:260px;top:846px">21 Sep 01:15</div>
<div class="t d" style="left:324px;top:846px">23 Sep 01:15</div>
<div class="t d" style="left:388px;top:846px">27 Sep 01:15</div>
<div class="t d" style="left:452px;top:846px">29 Sep 01:15</div>
<div class="t d" style="left:516px;top:846px">3 Oct 01:15</div>
<div class="t d" style="left:580px;top:846px">6 Oct 01:15</div>
<div class="t d" style="left:644px;top:846px">10 Oct 01:15</div>
<div class="t d" style="left:708px;top:846px">12 Oct 01:15</div>
<div class="t d" style="left:772px;top:846px">14 Oct 01:15</div>
<div class="t d" style="left:836px;top:846px">18 Oct 01:15</div>
<div class="t d" style="left:900px;top:846px">20 Oct 01:15</div>
<div class="t d" style="left:964px;top:846px">24 Oct 01:15</div>
<div class="t d" style="left:1028px;top:846px">26 Oct 01:15</div>
<div class="t d" style="left:1092px;top:846px">28 Oct 01:15</div>
<div class="t d" style="left:1156px;top:846px">1 Nov 01:15</div>
<div class="t d" style="left:1220px;top:846px">3 Nov 01:15</div>
<div class="t d" style="left:1284px;top:846px">7 Nov 01:15</div>
<div class="t h" style="left:20px;top:29px;transform:scaleX(0.92)">HK50-,H4&nbsp; <span style="margin-left:1.5px">16580.0 16603.0 16441.0 16564.5</span></div>
<div class="t h" style="left:9px;top:663px;transform:scaleX(0.952)">MACD(12,26,9) 119.04 -118.41</div>
<div class="t h" style="left:9px;top:753px">RSI(15) 57.7850</div>
<svg width="1689" height="23" style="position:absolute;left:0;top:0">
<rect x="0" y="0" width="1689" height="21" fill="#F0F0F0"/>
<rect x="0" y="21" width="1689" height="1" fill="#A0A0A0"/>
<rect x="0" y="22" width="1689" height="1" fill="#6C6C6C"/>
<rect x="277" y="0" width="25" height="19" fill="#F8F8F8"/>
<rect x="429" y="0" width="25" height="19" fill="#F8F8F8"/>
<rect x="457" y="0" width="25" height="19" fill="#F8F8F8"/>
<rect x="617" y="0" width="25" height="19" fill="#F8F8F8"/>
<rect x="1063" y="0" width="25" height="19" fill="#F8F8F8"/>
<rect x="238" y="0" width="1" height="21" fill="#A0A0A0"/><rect x="239" y="0" width="1" height="21" fill="#FFFFFF"/>
<rect x="606" y="0" width="1" height="21" fill="#A0A0A0"/><rect x="607" y="0" width="1" height="21" fill="#FFFFFF"/>
<rect x="912" y="0" width="1" height="21" fill="#A0A0A0"/><rect x="913" y="0" width="1" height="21" fill="#FFFFFF"/>
<rect x="1173" y="0" width="1" height="21" fill="#A0A0A0"/><rect x="1174" y="0" width="1" height="21" fill="#FFFFFF"/>
<rect x="2" y="0" width="1" height="19" fill="#A0A0A0"/>
<rect x="242" y="1" width="3" height="1" fill="#8C8C8C"/>
<rect x="242" y="3" width="3" height="1" fill="#8C8C8C"/>
<rect x="242" y="5" width="3" height="1" fill="#8C8C8C"/>
<rect x="242" y="7" width="3" height="1" fill="#8C8C8C"/>
<rect x="242" y="9" width="3" height="1" fill="#8C8C8C"/>
<rect x="242" y="11" width="3" height="1" fill="#8C8C8C"/>
<rect x="242" y="13" width="3" height="1" fill="#8C8C8C"/>
<rect x="242" y="15" width="3" height="1" fill="#8C8C8C"/>
<rect x="242" y="17" width="3" height="1" fill="#8C8C8C"/>
<rect x="610" y="1" width="3" height="1" fill="#8C8C8C"/>
<rect x="610" y="3" width="3" height="1" fill="#8C8C8C"/>
<rect x="610" y="5" width="3" height="1" fill="#8C8C8C"/>
<rect x="610" y="7" width="3" height="1" fill="#8C8C8C"/>
<rect x="610" y="9" width="3" height="1" fill="#8C8C8C"/>
<rect x="610" y="11" width="3" height="1" fill="#8C8C8C"/>
<rect x="610" y="13" width="3" height="1" fill="#8C8C8C"/>
<rect x="610" y="15" width="3" height="1" fill="#8C8C8C"/>
<rect x="610" y="17" width="3" height="1" fill="#8C8C8C"/>
<rect x="916" y="1" width="3" height="1" fill="#8C8C8C"/>
<rect x="916" y="3" width="3" height="1" fill="#8C8C8C"/>
<rect x="916" y="5" width="3" height="1" fill="#8C8C8C"/>
<rect x="916" y="7" width="3" height="1" fill="#8C8C8C"/>
<rect x="916" y="9" width="3" height="1" fill="#8C8C8C"/>
<rect x="916" y="11" width="3" height="1" fill="#8C8C8C"/>
<rect x="916" y="13" width="3" height="1" fill="#8C8C8C"/>
<rect x="916" y="15" width="3" height="1" fill="#8C8C8C"/>
<rect x="916" y="17" width="3" height="1" fill="#8C8C8C"/>
<rect x="276" y="0" width="1" height="19" fill="#A8A8A8"/>
<rect x="333" y="0" width="1" height="19" fill="#A8A8A8"/>
<rect x="423" y="0" width="1" height="19" fill="#A8A8A8"/>
<rect x="428" y="0" width="1" height="19" fill="#A8A8A8"/>
<rect x="456" y="0" width="1" height="19" fill="#A8A8A8"/>
<rect x="485" y="0" width="1" height="19" fill="#A8A8A8"/>
<rect x="616" y="0" width="1" height="19" fill="#A8A8A8"/>
<rect x="673" y="0" width="1" height="19" fill="#A8A8A8"/>
<rect x="1062" y="0" width="1" height="19" fill="#A8A8A8"/>
<path d="M12.5,1.5 H20 L22.5,4 V14.5 H12.5 Z" fill="#FFFFFF" stroke="#8A8A8A" stroke-width="1"/>
<rect x="14" y="3" width="3" height="1" fill="#9A9A9A"/><rect x="14" y="6" width="7" height="1" fill="#A0A0A0"/><rect x="14" y="8" width="6" height="1" fill="#A0A0A0"/><rect x="14" y="10" width="4" height="1" fill="#A0A0A0"/>
<path d="M20,7.5 H24 V11 H28 V15 H24 V18.5 H20 V15 H16 V11 H20 Z" fill="#1FD21F" stroke="#0E8A0E" stroke-width="0.8"/>
<path d="M84.5,2.5 L95,10.5 L87.5,16.5 L79,11 Z" fill="#E8B830" stroke="#9C6A12" stroke-width="1"/>
<path d="M80,11.5 L87.5,15.5 L94.5,10.5" fill="none" stroke="#F6E6A8" stroke-width="1"/>
<path d="M110.5,2.5 L114,1.5 H119.5 V12 H110.5 Z" fill="#2E8FE6" stroke="#1A5CB0" stroke-width="0.8"/>
<rect x="113" y="5" width="5" height="1.2" fill="#BFE2FF"/>
<path d="M108,15.5 C106,15 106.5,11.5 109.5,11.5 C110,9 114,8.5 115.5,10.5 C117,8.5 121,9 121,11.5 C124,11.5 124,15.5 121.5,15.5 Z" fill="#F4F8FC" stroke="#7C9CC0" stroke-width="1"/>
<circle cx="143" cy="8.5" r="7" fill="none" stroke="#8FB8C8" stroke-width="1.6"/>
<circle cx="143" cy="8.5" r="4.3" fill="none" stroke="#5A8AD0" stroke-width="1.4"/>
<circle cx="143" cy="8.5" r="1.8" fill="#2A62C8"/>
<rect x="142.3" y="9" width="1.6" height="7.5" fill="#2AA52A"/>
<path d="M163.5,9 L176,9 L172.5,16 L167,16 Z" fill="#F2DE5A" stroke="#B89A2A" stroke-width="0.8"/>
<ellipse cx="170" cy="5.5" rx="8" ry="3" fill="#5AB0E0" stroke="#2F7FB5" stroke-width="0.8"/>
<ellipse cx="170" cy="4" rx="4" ry="3" fill="#78C4EC" stroke="#2F7FB5" stroke-width="0.8"/>
<circle cx="174" cy="12.5" r="4.3" fill="#D8281E"/>
<rect x="172.3" y="10.8" width="3.4" height="3.4" fill="#FFFFFF"/>
<rect x="256" y="3" width="1" height="14" fill="#4E4E4E"/><rect x="254" y="14" width="13" height="1" fill="#4E4E4E"/><path d="M254.5,5.5 L256.5,2.5 L258.5,5.5 Z" fill="#4E4E4E"/><path d="M265,12 L268,14.5 L265,17 Z" fill="#4E4E4E"/>
<rect x="262" y="5" width="1" height="7" fill="#1A9A1A"/><rect x="262" y="5" width="3" height="1" fill="#1A9A1A"/><rect x="260" y="11" width="3" height="1" fill="#1A9A1A"/>
<rect x="284" y="3" width="1" height="14" fill="#4E4E4E"/><rect x="282" y="14" width="13" height="1" fill="#4E4E4E"/><path d="M282.5,5.5 L284.5,2.5 L286.5,5.5 Z" fill="#4E4E4E"/><path d="M293,12 L296,14.5 L293,17 Z" fill="#4E4E4E"/>
<rect x="290" y="1" width="1" height="12" fill="#0E7A0E"/><rect x="288.5" y="3.5" width="4" height="7" fill="#22D022" stroke="#0E7A0E" stroke-width="1"/>
<rect x="312" y="3" width="1" height="14" fill="#4E4E4E"/><rect x="310" y="14" width="13" height="1" fill="#4E4E4E"/><path d="M310.5,5.5 L312.5,2.5 L314.5,5.5 Z" fill="#4E4E4E"/><path d="M321,12 L324,14.5 L321,17 Z" fill="#4E4E4E"/>
<path d="M311,11.5 Q317,3 323,10" fill="none" stroke="#2A9A2A" stroke-width="1.2"/>
<path d="M351.5,11 L357,16" stroke="#A07A10" stroke-width="3.6" stroke-linecap="round"/>
<path d="M351.5,11 L357,16" stroke="#E8D060" stroke-width="2" stroke-linecap="round"/>
<circle cx="348" cy="7" r="5.6" fill="#DDF0FB" stroke="#2F6FC0" stroke-width="1.4"/>
<rect x="345" y="6" width="6" height="2" fill="#3F7FB0"/>
<rect x="347" y="4" width="2" height="6" fill="#3F7FB0"/>
<path d="M379.5,11 L385,16" stroke="#A07A10" stroke-width="3.6" stroke-linecap="round"/>
<path d="M379.5,11 L385,16" stroke="#E8D060" stroke-width="2" stroke-linecap="round"/>
<circle cx="376" cy="7" r="5.6" fill="#DDF0FB" stroke="#2F6FC0" stroke-width="1.4"/>
<rect x="373" y="6" width="6" height="2" fill="#3F7FB0"/>
<rect x="398" y="1" width="8" height="8" fill="#2E9A22"/>
<rect x="399" y="4" width="6" height="4" fill="#F4F8F4"/>
<rect x="399" y="2" width="1" height="1" fill="#FFFFFF"/>
<rect x="406" y="1" width="8" height="8" fill="#1E5FD0"/>
<rect x="407" y="4" width="6" height="4" fill="#F4F8F4"/>
<rect x="407" y="2" width="1" height="1" fill="#FFFFFF"/>
<rect x="398" y="9" width="8" height="8" fill="#1E5FD0"/>
<rect x="399" y="12" width="6" height="4" fill="#F4F8F4"/>
<rect x="399" y="10" width="1" height="1" fill="#FFFFFF"/>
<rect x="406" y="9" width="8" height="8" fill="#2E9A22"/>
<rect x="407" y="12" width="6" height="4" fill="#F4F8F4"/>
<rect x="407" y="10" width="1" height="1" fill="#FFFFFF"/>
<rect x="436" y="3" width="1" height="14" fill="#4E4E4E"/><rect x="434" y="14" width="13" height="1" fill="#4E4E4E"/><path d="M434.5,5.5 L436.5,2.5 L438.5,5.5 Z" fill="#4E4E4E"/><path d="M445,12 L448,14.5 L445,17 Z" fill="#4E4E4E"/>
<path d="M441.5,5 L445.5,8.5 L441.5,12 Z" fill="#2ED02E" stroke="#1A8A1A" stroke-width="0.8"/>
<rect x="464" y="3" width="1" height="14" fill="#4E4E4E"/><rect x="462" y="14" width="13" height="1" fill="#4E4E4E"/><path d="M462.5,5.5 L464.5,2.5 L466.5,5.5 Z" fill="#4E4E4E"/><path d="M473,12 L476,14.5 L473,17 Z" fill="#4E4E4E"/>
<rect x="470" y="3" width="1.2" height="10" fill="#1A6AB0"/>
<path d="M471.5,8.5 L474,6.5 L474,10.5 Z M473,8 H477 V9 H473 Z" fill="#E04010"/>
<path d="M495.5,1.5 H503 L505.5,4 V14.5 H495.5 Z" fill="#FFFFFF" stroke="#8A8A8A" stroke-width="1"/>
<path d="M499,4 Q497.5,4 497.5,6 V12" fill="none" stroke="#3A3A3A" stroke-width="0.8"/>
<path d="M503,7.5 H507 V11 H511 V15 H507 V18.5 H503 V15 H499 V11 H503 Z" fill="#1FD21F" stroke="#0E8A0E" stroke-width="0.8"/>
<path d="M517,8 H523 L520,11.5 Z" fill="#000"/>
<path d="M555,8 H561 L558,11.5 Z" fill="#000"/>
<path d="M595,8 H601 L598,11.5 Z" fill="#000"/>
<path d="M901,8 H907 L904,11.5 Z" fill="#000"/>
<circle cx="541" cy="8.7" r="6.6" fill="#FFFFFF" stroke="#1E6AC8" stroke-width="3"/>
<circle cx="541" cy="8.7" r="8" fill="none" stroke="#0F4A9A" stroke-width="0.6"/>
<path d="M540.5,4.5 V8.7 H544" fill="none" stroke="#202020" stroke-width="1"/>
<rect x="572.5" y="2.5" width="15" height="13" fill="#FFFFFF" stroke="#3A6EB8" stroke-width="1"/>
<rect x="573" y="3" width="14" height="2" fill="#5A8ED0"/>
<rect x="573" y="10" width="14" height="1" fill="#3A6EB8"/>
<path d="M574,8 L577,7.5 L579,6.5 L581,7.5 L583,7 L586,6.5" fill="none" stroke="#C02818" stroke-width="1"/>
<path d="M574,14 L577,13 L579,13.5 L581,12 L583,13.5 L586,12.5" fill="none" stroke="#1E9A1E" stroke-width="1"/>
<path d="M624,2 L624,13 L626.6,10.8 L629,16 L631,15 L628.8,10 L632.3,9.8 Z" fill="#4E4E4E"/>
<rect x="649" y="9" width="6" height="1" fill="#4E4E4E"/><rect x="658" y="9" width="6" height="1" fill="#4E4E4E"/><rect x="656" y="2" width="1" height="6" fill="#4E4E4E"/><rect x="656" y="11" width="1" height="6" fill="#4E4E4E"/>
<rect x="690" y="3" width="1.3" height="13" fill="#4E4E4E"/>
<rect x="713" y="9" width="12" height="1.3" fill="#4E4E4E"/>
<path d="M741,15.8 L753,3.8" stroke="#4E4E4E" stroke-width="1.1"/>
<path d="M767,10.5 L775,3 M768.5,15.5 L779,5 M772,15.5 L781,7" stroke="#4E4E4E" stroke-width="0.9"/>
<path d="M768,11 L771,9 L770,12 L774,7 L773,10 L777,4.5 L776,7.5 L779.5,2" fill="none" stroke="#4E4E4E" stroke-width="1"/>
<path d="M778.5,13.5 H782 M778.5,15.5 H781.5 M778.5,17.5 H782 M778.5,13.5 V17.5" stroke="#4E4E4E" stroke-width="1"/>
<rect x="796" y="2" width="1" height="1" fill="#4E4E4E"/>
<rect x="798" y="2" width="1" height="1" fill="#4E4E4E"/>
<rect x="800" y="2" width="1" height="1" fill="#4E4E4E"/>
<rect x="802" y="2" width="1" height="1" fill="#4E4E4E"/>
<rect x="804" y="2" width="1" height="1" fill="#4E4E4E"/>
<rect x="806" y="2" width="1" height="1" fill="#4E4E4E"/>
<rect x="808" y="2" width="1" height="1" fill="#4E4E4E"/>
<rect x="796" y="5" width="1" height="1" fill="#4E4E4E"/>
<rect x="798" y="5" width="1" height="1" fill="#4E4E4E"/>
<rect x="800" y="5" width="1" height="1" fill="#4E4E4E"/>
<rect x="802" y="5" width="1" height="1" fill="#4E4E4E"/>
<rect x="804" y="5" width="1" height="1" fill="#4E4E4E"/>
<rect x="806" y="5" width="1" height="1" fill="#4E4E4E"/>
<rect x="808" y="5" width="1" height="1" fill="#4E4E4E"/>
<rect x="796" y="9" width="1" height="1" fill="#4E4E4E"/>
<rect x="798" y="9" width="1" height="1" fill="#4E4E4E"/>
<rect x="800" y="9" width="1" height="1" fill="#4E4E4E"/>
<rect x="802" y="9" width="1" height="1" fill="#4E4E4E"/>
<rect x="804" y="9" width="1" height="1" fill="#4E4E4E"/>
<rect x="806" y="9" width="1" height="1" fill="#4E4E4E"/>
<rect x="808" y="9" width="1" height="1" fill="#4E4E4E"/>
<rect x="796" y="13" width="1" height="1" fill="#4E4E4E"/>
<rect x="798" y="13" width="1" height="1" fill="#4E4E4E"/>
<rect x="800" y="13" width="1" height="1" fill="#4E4E4E"/>
<rect x="802" y="13" width="1" height="1" fill="#4E4E4E"/>
<rect x="804" y="13" width="1" height="1" fill="#4E4E4E"/>
<rect x="806" y="13" width="1" height="1" fill="#4E4E4E"/>
<rect x="808" y="13" width="1" height="1" fill="#4E4E4E"/>
<path d="M806.5,13.5 V17.5 M806.5,13.5 H810 M806.5,15.5 H809" stroke="#4E4E4E" stroke-width="1"/>
<path d="M827.5,14 L830.7,5 L834,14 M828.8,11 H832.6" fill="none" stroke="#4E4E4E" stroke-width="1.5"/>
<rect x="853" y="3" width="1" height="1" fill="#4E4E4E"/><rect x="853" y="15" width="1" height="1" fill="#4E4E4E"/>
<rect x="855" y="3" width="1" height="1" fill="#4E4E4E"/><rect x="855" y="15" width="1" height="1" fill="#4E4E4E"/>
<rect x="857" y="3" width="1" height="1" fill="#4E4E4E"/><rect x="857" y="15" width="1" height="1" fill="#4E4E4E"/>
<rect x="859" y="3" width="1" height="1" fill="#4E4E4E"/><rect x="859" y="15" width="1" height="1" fill="#4E4E4E"/>
<rect x="861" y="3" width="1" height="1" fill="#4E4E4E"/><rect x="861" y="15" width="1" height="1" fill="#4E4E4E"/>
<rect x="863" y="3" width="1" height="1" fill="#4E4E4E"/><rect x="863" y="15" width="1" height="1" fill="#4E4E4E"/>
<rect x="865" y="3" width="1" height="1" fill="#4E4E4E"/><rect x="865" y="15" width="1" height="1" fill="#4E4E4E"/>
<rect x="853" y="3" width="1" height="1" fill="#4E4E4E"/><rect x="865" y="3" width="1" height="1" fill="#4E4E4E"/>
<rect x="853" y="5" width="1" height="1" fill="#4E4E4E"/><rect x="865" y="5" width="1" height="1" fill="#4E4E4E"/>
<rect x="853" y="7" width="1" height="1" fill="#4E4E4E"/><rect x="865" y="7" width="1" height="1" fill="#4E4E4E"/>
<rect x="853" y="9" width="1" height="1" fill="#4E4E4E"/><rect x="865" y="9" width="1" height="1" fill="#4E4E4E"/>
<rect x="853" y="11" width="1" height="1" fill="#4E4E4E"/><rect x="865" y="11" width="1" height="1" fill="#4E4E4E"/>
<rect x="853" y="13" width="1" height="1" fill="#4E4E4E"/><rect x="865" y="13" width="1" height="1" fill="#4E4E4E"/>
<rect x="853" y="15" width="1" height="1" fill="#4E4E4E"/><rect x="865" y="15" width="1" height="1" fill="#4E4E4E"/>
<path d="M855.5,6 H863.5 M859.5,6 V13.5" stroke="#4E4E4E" stroke-width="1.5"/>
<path d="M880,7 L883.5,3 L887,7 Z" fill="#4E4E4E"/><path d="M887,11.5 L890.5,15.5 L894,11.5 Z" fill="#4E4E4E"/>
<path d="M882.5,9.5 L885,12 L889,7" fill="none" stroke="#4E4E4E" stroke-width="1.2"/>
<path d="M1640.5,9.5 L1636.5,13.5" stroke="#2A5CC8" stroke-width="2.4" stroke-linecap="round"/>
<circle cx="1643.4" cy="6.5" r="3.6" fill="#F4F8FF" stroke="#2A66D8" stroke-width="1.4"/>
<ellipse cx="1666" cy="11" rx="6" ry="4.6" fill="#E8EAF0" stroke="#B0B4BC" stroke-width="0.8"/>
<path d="M1663,14.5 L1663.5,17.5 L1666,15" fill="#E8EAF0" stroke="#B0B4BC" stroke-width="0.6"/>
<circle cx="1674.5" cy="6.5" r="8" fill="#D8321E"/>
<path d="M1673,3.5 L1675,2 V10.5" fill="none" stroke="#FFFFFF" stroke-width="1.4"/>
</svg>
<div class="t tf" style="left:928px;top:5px">M1</div>
<div class="t tf" style="left:956px;top:5px">M5</div>
<div class="t tf" style="left:982px;top:5px">M15</div>
<div class="t tf" style="left:1010px;top:5px">M30</div>
<div class="t tf" style="left:1041px;top:5px">H1</div>
<div class="t tf" style="left:1067px;top:5px">H4</div>
<div class="t tf" style="left:1097px;top:5px">D1</div>
<div class="t tf" style="left:1124px;top:5px">W1</div>
<div class="t tf" style="left:1151px;top:5px">MN</div>
<svg width="240" height="16" style="position:absolute;left:0;top:0"><g fill="none" stroke="#000" stroke-width="1.05"><path d="M34.5,1.5 V3 M31,3.5 H38 M32.5,4.5 L33,5.8 M36.5,4.5 L36,5.8 M31,6.5 H38 M31,9 H38 M34.5,6.5 V13 M34,9.5 L31,12.5 M35,9.5 L37.5,12"/><path d="M42.5,2 L38.5,3.8 V12.5 L38,13 M38.5,6.5 H44.5 M41.5,6.5 V13"/><path d="M44.5,2.5 L46,4.2 M44.5,6.5 H45.8 V12 L47,11"/><path d="M48,3.5 H55 M51.5,3.5 V12.5 H49.8"/><path d="M58,1.8 L59,3.5 M64.5,1.8 L63.5,3.5 M57.5,4.5 H65.5 V9.5 H57.5 Z M57.5,7 H65.5 M61.5,4.5 V13 M55,11 H67"/><path d="M189.5,1.8 L189,3.5 M184.5,3.5 H193.5 V12.5 H184.5 Z M184.5,6.5 H193.5 M184.5,9.5 H193.5"/><path d="M196,3.5 H200.5 M195,6.5 H201 M198,6.5 L195.5,11.5 L201,10.5 M199.5,9 L201,11"/><path d="M201,5 H206.5 V12.5 H205 M203.5,2 V8 L200.5,12.8"/><path d="M213,1.8 L213.5,3.5 M207.5,4.5 H218.5 M210.5,5.8 L209,8 M215.5,5.8 L217,8 M216,8 L209,12.8 M210,8.5 L218.5,12.8"/><path d="M221.5,2.5 H229.5 V6.5 H221.5 Z M221.5,4.5 H229.5 M220.5,8.5 H229.5 V12.5 H227.5 M222.5,8.5 L220,11 M225,9.3 L221.5,12.8 M227.5,9.3 L224,12.8"/></g></svg>
</body></html>
